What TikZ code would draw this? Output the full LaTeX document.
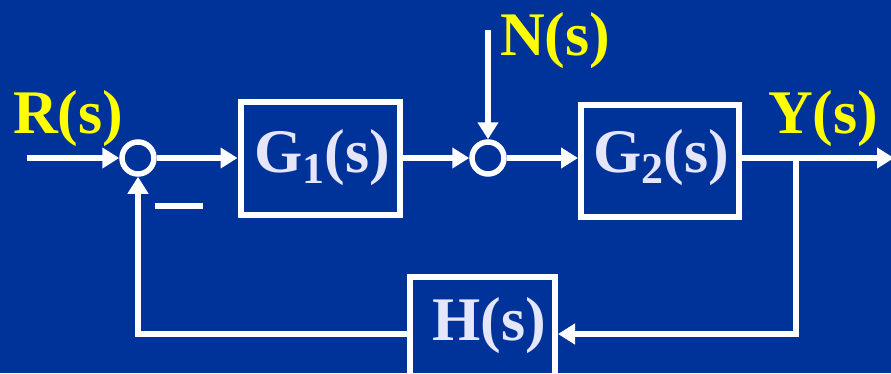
\documentclass[tikz,border=0pt]{standalone}
\usepackage{fontspec}
\setmainfont{Liberation Serif}
\usetikzlibrary{arrows.meta}
\definecolor{bg}{RGB}{0,51,153}
\definecolor{lav}{RGB}{230,230,250}
\definecolor{yel}{RGB}{255,255,0}
\newcommand{\subsc}[1]{\raisebox{-11bp}{\fontsize{44bp}{44bp}\selectfont #1}}
\begin{document}
\begin{tikzpicture}[x=1bp,y=-1bp,
  sig/.style={line width=6bp, white, -{Triangle[length=17bp,width=20bp]}},
  blk/.style={draw=white, line width=6bp, rectangle, inner sep=0},
  sumj/.style={draw=white, line width=5.5bp, circle, inner sep=0, minimum size=32bp},
  lbl/.style={font=\fontsize{62bp}{62bp}\selectfont\bfseries, inner sep=0, anchor=base west},
]
\fill[bg] (0,0) rectangle (891,373);
\useasboundingbox (0,0) rectangle (891,373);
\clip (0,0) rectangle (891,373);

% blocks and junctions
\node[sumj] (s1) at (138,158) {};
\node[sumj] (s2) at (488,158) {};
\node[blk, minimum width=159bp, minimum height=113bp] (G1) at (320,158) {};
\node[blk, minimum width=158bp, minimum height=112bp] (G2) at (660,161) {};
\node[blk, minimum width=145bp, minimum height=130bp] (H) at (482.5,342) {};

% texts
\node[lbl, yel] (R) at (13,133) {R(s)};
\node[lbl, yel] (N) at (500,55) {N(s)};
\node[lbl, yel] (Y) at (768,133) {Y(s)};
\node[lbl, lav] (g1t) at (254,172) {G\subsc{1}(s)};
\node[lbl, lav] (g2t) at (593,172) {G\subsc{2}(s)};
\node[lbl, lav] (ht) at (432,340) {H(s)};
\node[fill=white, inner sep=0, minimum width=48bp, minimum height=6bp] (minus) at (179,206) {};

% coordinates
\coordinate (in) at (27,158);
\coordinate (ntop) at (488,30);
\coordinate (out) at (894,158);
\coordinate (br) at (796,158);
\coordinate (brd) at (796,334);
\coordinate (fl) at (138,334);

% connectors
\draw[sig] (in) -- (s1.west);
\draw[sig] (s1.east) -- (G1.west);
\draw[sig] (G1.east) -- (s2.west);
\draw[sig] (ntop) -- (s2.north);
\draw[sig] (s2.east) -- (s2.east -| G2.west);
\draw[sig] (s2.east -| G2.east) -- (out);
\draw[sig] (br) -- (brd) -- (brd -| H.east);
\draw[sig] (brd -| H.west) -- (fl) -- (s1.south);
\end{tikzpicture}
\end{document}
